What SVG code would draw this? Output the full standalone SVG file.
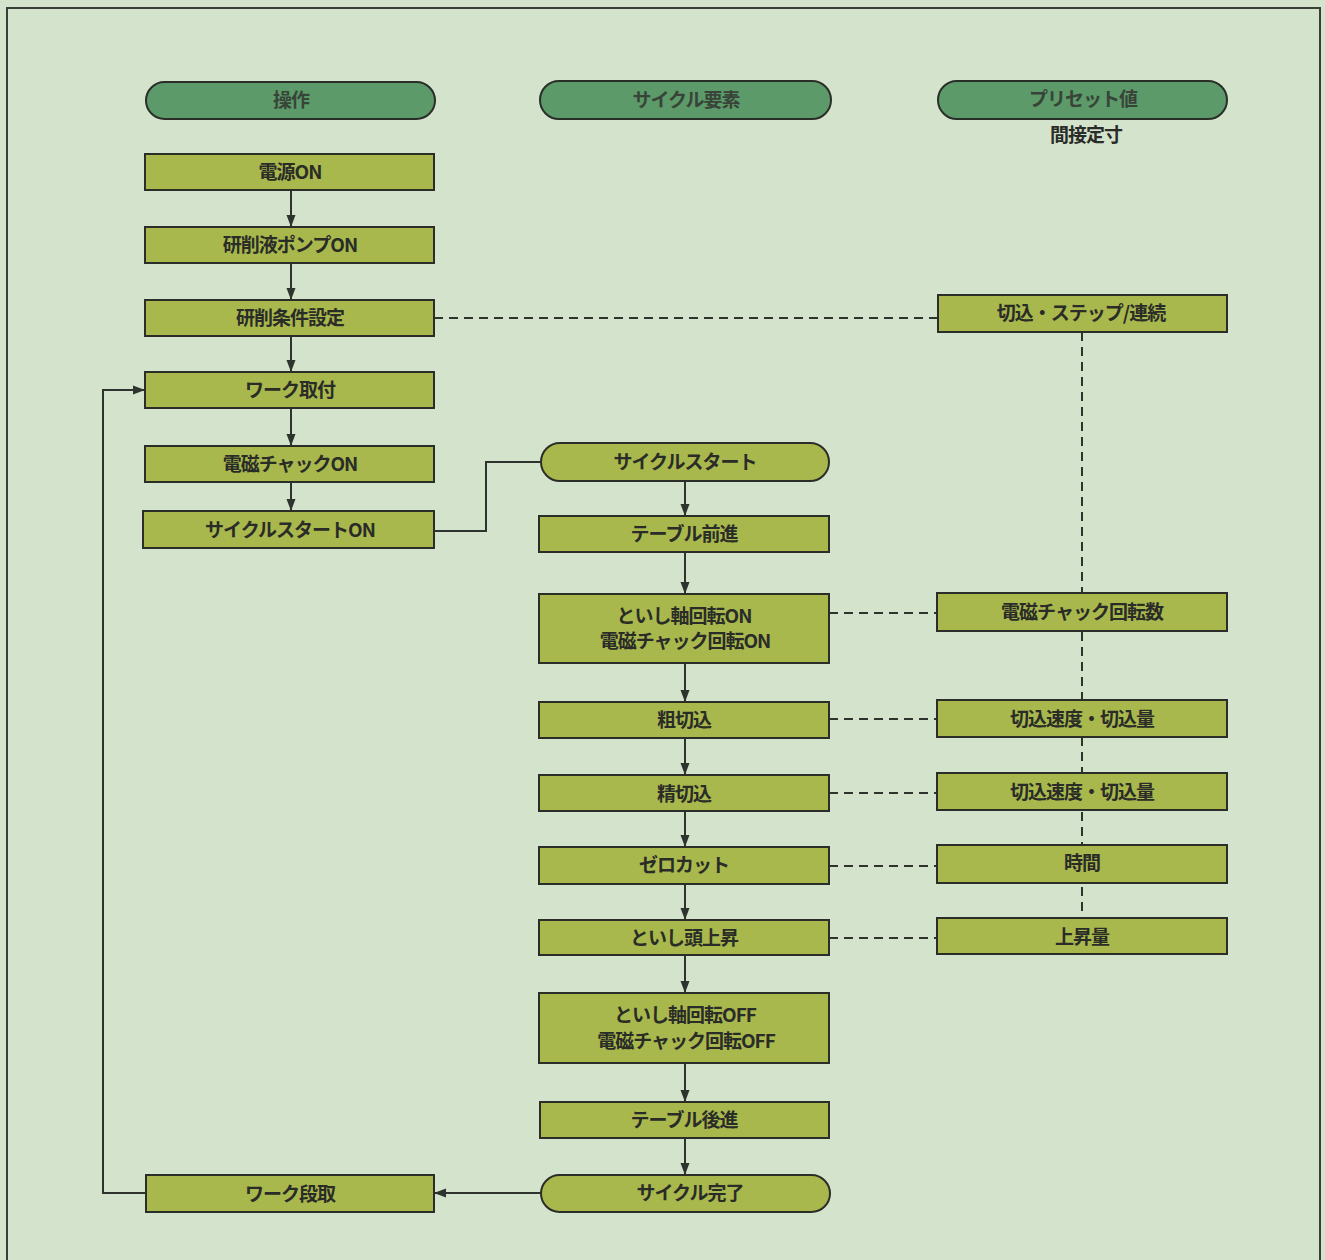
<svg xmlns="http://www.w3.org/2000/svg" width="1325" height="1260" viewBox="0 0 1325 1260">
<defs>
<style>
.bg{fill:#d3e3cc}
.frame{fill:none;stroke:#3a3f3a;stroke-width:2}
.box{fill:#a9b84c;stroke:#2b2e28;stroke-width:2}
.hdr{fill:#5c9a6a;stroke:#2b2e28;stroke-width:2}
.t{font-family:"Noto Sans CJK JP","Liberation Sans",sans-serif;font-weight:bold;font-size:19px;fill:#2a2c28;text-anchor:middle;dominant-baseline:central;letter-spacing:-1px;transform:translateY(-2px)}
.th{font-family:"Noto Sans CJK JP","Liberation Sans",sans-serif;font-weight:bold;font-size:19px;fill:#384438;text-anchor:middle;dominant-baseline:central;letter-spacing:-1px;transform:translateY(-2px)}
.ln{fill:none;stroke:#2f332e;stroke-width:2}
.dl{fill:none;stroke:#2f332e;stroke-width:2;stroke-dasharray:9,6}
</style>
<marker id="ah" markerWidth="12" markerHeight="12" refX="11" refY="6" orient="auto" markerUnits="userSpaceOnUse">
<path d="M0,1.5 L12,6 L0,10.5 Z" fill="#2f332e"/>
</marker>
</defs>
<rect class="bg" x="0" y="0" width="1325" height="1260"/>
<rect class="frame" x="7" y="8" width="1313" height="1260"/>

<g id="connectors">
<line class="ln" x1="291" y1="190" x2="291" y2="226" marker-end="url(#ah)"/>
<line class="ln" x1="291" y1="263" x2="291" y2="299" marker-end="url(#ah)"/>
<line class="ln" x1="291" y1="336" x2="291" y2="371" marker-end="url(#ah)"/>
<line class="ln" x1="291" y1="408" x2="291" y2="445" marker-end="url(#ah)"/>
<line class="ln" x1="291" y1="482" x2="291" y2="510" marker-end="url(#ah)"/>
<polyline class="ln" points="434,531 486,531 486,462 541,462"/>
<line class="ln" x1="685" y1="481" x2="685" y2="515" marker-end="url(#ah)"/>
<line class="ln" x1="685" y1="552" x2="685" y2="593" marker-end="url(#ah)"/>
<line class="ln" x1="685" y1="663" x2="685" y2="701" marker-end="url(#ah)"/>
<line class="ln" x1="685" y1="738" x2="685" y2="774" marker-end="url(#ah)"/>
<line class="ln" x1="685" y1="811" x2="685" y2="846" marker-end="url(#ah)"/>
<line class="ln" x1="685" y1="884" x2="685" y2="919" marker-end="url(#ah)"/>
<line class="ln" x1="685" y1="955" x2="685" y2="992" marker-end="url(#ah)"/>
<line class="ln" x1="685" y1="1063" x2="685" y2="1101" marker-end="url(#ah)"/>
<line class="ln" x1="685" y1="1138" x2="685" y2="1174" marker-end="url(#ah)"/>
<line class="ln" x1="541" y1="1193" x2="435" y2="1193" marker-end="url(#ah)"/>
<polyline class="ln" points="146,1193 103,1193 103,390 144,390" marker-end="url(#ah)"/>
<line class="dl" x1="434" y1="318" x2="938" y2="318"/>
<line class="dl" x1="1082" y1="332" x2="1082" y2="918"/>
<line class="dl" x1="829" y1="613" x2="937" y2="613"/>
<line class="dl" x1="829" y1="719" x2="937" y2="719"/>
<line class="dl" x1="829" y1="793" x2="937" y2="793"/>
<line class="dl" x1="829" y1="866" x2="937" y2="866"/>
<line class="dl" x1="829" y1="938" x2="937" y2="938"/>
</g>

<g id="h1"><rect class="hdr" x="146" y="82" width="289" height="37" rx="18.5"/><text class="th" x="291" y="100">操作</text></g>
<g id="h2"><rect class="hdr" x="540" y="81" width="291" height="38" rx="19"/><text class="th" x="686" y="100">サイクル要素</text></g>
<g id="h3"><rect class="hdr" x="938" y="81" width="289" height="38" rx="19"/><text class="th" x="1083" y="99">プリセット値</text></g>
<g id="sub3"><text class="t" x="1086" y="135">間接定寸</text></g>

<g id="n1"><rect class="box" x="145" y="154" width="289" height="36"/><text class="t" x="290" y="172">電源ON</text></g>
<g id="n2"><rect class="box" x="145" y="227" width="289" height="36"/><text class="t" x="290" y="245">研削液ポンプON</text></g>
<g id="n3"><rect class="box" x="145" y="300" width="289" height="36"/><text class="t" x="290" y="318">研削条件設定</text></g>
<g id="n4"><rect class="box" x="145" y="372" width="289" height="36"/><text class="t" x="290" y="390">ワーク取付</text></g>
<g id="n5"><rect class="box" x="145" y="446" width="289" height="36"/><text class="t" x="290" y="464">電磁チャックON</text></g>
<g id="n6"><rect class="box" x="143" y="511" width="291" height="37"/><text class="t" x="290" y="530">サイクルスタートON</text></g>
<g id="n7"><rect class="box" x="146" y="1175" width="288" height="37"/><text class="t" x="290" y="1194">ワーク段取</text></g>

<g id="c1"><rect class="box" x="541" y="443" width="288" height="38" rx="19"/><text class="t" x="685" y="462">サイクルスタート</text></g>
<g id="c2"><rect class="box" x="539" y="516" width="290" height="36"/><text class="t" x="684" y="534">テーブル前進</text></g>
<g id="c3"><rect class="box" x="539" y="594" width="290" height="69"/><text class="t" x="684" y="616">といし軸回転ON</text><text class="t" x="685" y="641">電磁チャック回転ON</text></g>
<g id="c4"><rect class="box" x="539" y="702" width="290" height="36"/><text class="t" x="684" y="720">粗切込</text></g>
<g id="c5"><rect class="box" x="539" y="775" width="290" height="36"/><text class="t" x="684" y="794">精切込</text></g>
<g id="c6"><rect class="box" x="539" y="847" width="290" height="37"/><text class="t" x="684" y="865">ゼロカット</text></g>
<g id="c7"><rect class="box" x="539" y="920" width="290" height="35"/><text class="t" x="684" y="938">といし頭上昇</text></g>
<g id="c8"><rect class="box" x="539" y="993" width="290" height="70"/><text class="t" x="685" y="1015">といし軸回転OFF</text><text class="t" x="686" y="1041">電磁チャック回転OFF</text></g>
<g id="c9"><rect class="box" x="540" y="1102" width="289" height="36"/><text class="t" x="684" y="1120">テーブル後進</text></g>
<g id="c10"><rect class="box" x="541" y="1175" width="289" height="37" rx="18.5"/><text class="t" x="690" y="1193">サイクル完了</text></g>

<g id="p1"><rect class="box" x="938" y="295" width="289" height="37"/><text class="t" x="1081" y="313">切込・ステップ/連続</text></g>
<g id="p2"><rect class="box" x="937" y="593" width="290" height="38"/><text class="t" x="1082" y="612">電磁チャック回転数</text></g>
<g id="p3"><rect class="box" x="937" y="700" width="290" height="37"/><text class="t" x="1082" y="719">切込速度・切込量</text></g>
<g id="p4"><rect class="box" x="937" y="773" width="290" height="37"/><text class="t" x="1082" y="792">切込速度・切込量</text></g>
<g id="p5"><rect class="box" x="937" y="845" width="290" height="38"/><text class="t" x="1082" y="863">時間</text></g>
<g id="p6"><rect class="box" x="937" y="918" width="290" height="36"/><text class="t" x="1082" y="937">上昇量</text></g>
</svg>
